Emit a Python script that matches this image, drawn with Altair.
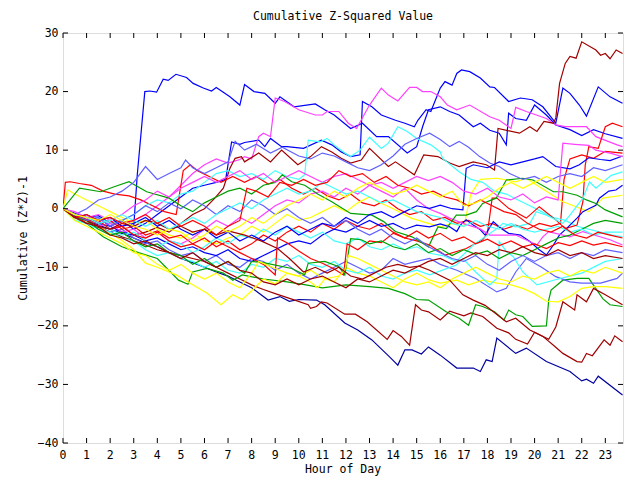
import altair as alt
import pandas as pd

FONT = "DejaVu Sans Mono"
R, DR, G, B, DB, LB, M, C, Y = ("#ff0000", "#a00000", "#00a000", "#0000ff", "#0000a0",
                                "#6060ff", "#ff40ff", "#40ffff", "#ffff00")

s01 = [(0,0),(0.5,-0.8),(1,-1.5),(1.5,-1.2),(2,-2.5),(2.5,-2),(3,-3),(3.15,5.8),(3.47,20),(3.68,20.1),(3.97,19.9),(4.25,22.1),(4.46,21.9),(4.79,22.95),(5.24,22.4),(5.52,21.4),(5.95,20.6),(6.3,20.1),(6.5,20.7),(7.08,19.1),(7.5,17.7),(7.7,21.2),(8.1,20),(8.56,19.7),(9.0,18),(9.2,19.1),(9.8,17.4),(10.7,17.9),(11.1,16.9),(11.5,16),(12.2,13.7),(12.7,14.6),(13.3,12.3),(13.8,12.3),(14.6,9.5),(15,10.6),(15.25,14),(15.5,16.9),(16,17.4),(16.4,16.6),(16.8,16),(17.4,14),(17.7,14.6),(18.1,13.4),(18.5,12.9),(18.8,10.9),(18.9,16.3),(19.2,15.4),(19.65,15.1),(20,17.7),(20.5,16),(20.9,14.3),(21.5,13.5),(22,12.5),(22.5,13.5),(23,12.8),(23.73,12)]
s02 = [(0,0),(0.5,-1),(1,-2),(1.5,-1.5),(2,-3),(2.5,-2),(3,-3.5),(3.5,-2.5),(4,-1),(4.5,0.5),(5,2),(5.5,3.5),(6,4),(6.5,4.5),(6.9,5),(7.15,11.4),(7.5,11),(7.7,11.3),(8.3,11.7),(8.56,10.6),(8.8,12),(9.27,10.6),(9.5,10.6),(10.2,10.3),(10.96,11.7),(11.4,10.9),(11.8,9.7),(12.2,8.9),(12.6,9.2),(12.7,18.3),(13.1,17.4),(13.5,16),(14.1,15.1),(14.5,14.6),(14.9,14),(15.05,15.1),(15.4,16.9),(15.6,16.6),(16,20.6),(16.2,21.7),(16.5,21.1),(16.7,23.1),(16.9,23.7),(17.25,23.4),(17.7,22.3),(18.1,20.8),(18.3,20.7),(18.9,18.3),(19.4,18.9),(19.9,18.6),(20.35,17.4),(20.9,14.6),(21.2,20.6),(21.5,19.7),(21.9,17.7),(22.2,15.8),(22.7,20.8),(23.2,19.1),(23.73,18)]
s03 = [(0,0),(0.5,-1),(1,-1.5),(1.5,-2.5),(2,-2),(2.5,-3),(3,-2),(3.5,-1),(4,0.5),(4.5,2),(5,4),(5.5,6),(6,7.5),(6.5,8.5),(7,7.8),(7.5,8.4),(7.7,8.9),(8.0,8.5),(8.3,12.3),(8.5,12.9),(8.8,12.3),(9.0,18.9),(9.4,18.3),(10,16.9),(10.7,16),(11,16),(11.2,16.6),(11.7,16.6),(12.1,14.6),(12.45,13.7),(13,17.7),(13.5,20.6),(13.8,19.4),(14.2,18.4),(14.7,20.7),(15,20.7),(15.25,20),(15.6,20),(16,19.1),(16.3,17.7),(16.7,16.9),(17.25,17.7),(18.1,15.7),(18.5,15.1),(19,13.7),(19.2,17.3),(19.65,16.6),(20.5,15.4),(20.9,14.3),(21.3,14),(22.2,14),(22.6,12.3),(23.5,10.9),(23.73,10.6)]
s04 = [(0,0),(0.5,-1.5),(1,-2),(1.5,-3),(2,-3.5),(2.5,-3),(3,-4.5),(3.5,-4),(4,-3.2),(4.5,-4),(5,-2.5),(5.5,-1),(6,0),(6.44,1.8),(6.8,3.5),(7.08,6.9),(7.3,8.6),(7.57,8.9),(7.7,8),(8.3,9.5),(8.8,8),(9.27,10),(9.96,7.5),(10.5,8.9),(10.96,10.6),(11.4,9.7),(11.8,8.6),(12.2,7.8),(12.65,8.3),(13,10.3),(13.8,7.2),(14.1,8),(14.9,5.8),(15.3,9.2),(15.9,8.9),(16.4,7.8),(16.8,7.2),(17.4,8),(17.95,7.5),(18.3,6.6),(18.45,13.7),(19.36,12.9),(19.8,14),(20.1,13.2),(20.4,14.9),(20.8,14.6),(20.9,15.5),(21.06,21.4),(21.3,24.8),(21.5,26),(21.76,25.7),(22,28.5),(22.6,27.1),(22.8,26.2),(23,26.5),(23.2,25.6),(23.46,27.1),(23.73,26.5)]
s05 = [(0,0),(0.5,-1.2),(1,-2),(1.5,-2.8),(2,-3.5),(2.5,-4.2),(3,-5),(3.5,-5.8),(4,-6.5),(4.5,-7.5),(5,-8.5),(5.5,-9.2),(6,-10),(6.5,-10.8),(7,-11.5),(7.5,-12.5),(8,-13.5),(8.7,-15.6),(9.2,-15),(9.6,-15.8),(10,-15.5),(10.75,-15.6),(11.1,-16.4),(11.95,-19.5),(12.5,-20.7),(13.1,-22.4),(13.85,-25.3),(14.2,-26.7),(14.5,-24.1),(14.8,-24.1),(15.2,-24.8),(15.5,-23.6),(16,-25),(16.7,-27.2),(17.4,-27.2),(17.7,-27.8),(17.95,-25.8),(18.2,-26.1),(18.4,-22.1),(19.2,-24.7),(19.65,-23.8),(20.5,-26.1),(21.5,-27.8),(22,-29.4),(22.2,-29.1),(22.5,-29.8),(22.7,-28.6),(23.73,-31.8)]
s06 = [(0,0),(0.5,-1.3),(1,-2.5),(1.5,-3.2),(2,-4),(2.5,-4.8),(3,-5.5),(3.5,-6.2),(4,-7),(4.5,-7.5),(5,-8),(5.5,-8.5),(6,-9),(6.5,-10),(7,-11),(7.5,-12),(8,-13),(8.5,-13.8),(9,-14.5),(9.83,-15.6),(10.4,-16.4),(10.5,-17),(10.75,-16.7),(10.96,-15.9),(11.2,-16.1),(11.95,-18),(12.4,-18),(12.9,-19.3),(13.75,-22.3),(14,-20.8),(14.35,-21.8),(14.7,-23.3),(14.95,-16.4),(15.2,-17.3),(15.5,-17.6),(16,-19),(16.4,-17.5),(17,-18.3),(17.3,-17.8),(17.8,-18.4),(18.4,-20.4),(18.9,-21.2),(19.2,-22.3),(19.7,-23.1),(20,-21.1),(20.35,-21.8),(20.8,-23.3),(21.2,-24.7),(21.8,-26.1),(22,-26.2),(22.2,-24.7),(22.45,-25.1),(22.95,-22.4),(23.2,-23.3),(23.4,-21.7),(23.73,-22.7)]
s07 = [(0,0),(0.5,-1.5),(1,-2.5),(1.7,-4.8),(2.5,-6.5),(3.2,-7.5),(4,-8.5),(4.9,-12.2),(5.3,-12.9),(5.5,-10.8),(6.1,-10.2),(6.8,-11),(7.2,-12.2),(7.6,-11.3),(8.5,-12),(9.5,-12.5),(10.3,-13),(11,-13.5),(12,-13),(13,-13.3),(13.8,-13.6),(14.5,-14.5),(15,-15.5),(15.5,-15.6),(16.25,-17.6),(16.8,-18.7),(17.2,-19.9),(17.5,-16.4),(17.8,-16.7),(18.3,-17.6),(18.7,-19),(18.9,-17.3),(19.2,-18.1),(19.5,-18.4),(19.9,-20.1),(20.5,-20),(20.6,-15.6),(20.7,-13.9),(21.2,-12.2),(21.8,-11.9),(22.3,-11.9),(22.9,-15.4),(23.2,-16.4),(23.73,-16.7)]
s08 = [(0,0),(0.5,-1.5),(1,-2.5),(1.5,-3),(2,-4),(2.5,-3.5),(3,-5),(3.5,-6),(4,-5.5),(4.5,-7),(5,-8),(5.5,-7.5),(6,-9),(6.5,-8),(7,-9.5),(7.5,-10),(8,-8.5),(8.5,-9),(9,-10.5),(9.5,-9.5),(10,-11),(10.5,-12),(11,-11),(11.5,-10),(12,-9),(12.5,-10),(13,-11),(13.5,-10.5),(14,-8.5),(14.5,-9.5),(15,-9),(15.55,-8.5),(16,-9.5),(16.7,-10.5),(17.5,-11.9),(18.4,-14.2),(18.8,-13.6),(19.2,-10.8),(19.65,-8.5),(20.3,-10),(20.9,-11.6),(21.5,-12.5),(22,-12.7),(22.8,-12.7),(23.5,-11.9),(23.73,-11)]
s09 = [(0,0),(0.1,4.5),(0.3,4.6),(0.7,4.3),(1.2,4),(1.7,3),(2.2,2.5),(2.8,2.2),(3.3,1.5),(3.8,0.5),(4.3,-0.5),(4.8,-1),(5.1,6.5),(5.4,7.5),(5.7,6.5),(6.2,5.5),(6.7,4.5),(7.2,5.5),(7.7,4.5),(8.2,5.5),(8.7,4.2),(9.2,5),(9.7,3.5),(10.2,2.5),(10.7,3.5),(11.2,2.2),(11.7,1.5),(12.2,2.5),(12.7,1),(13.2,0.5),(13.7,1.5),(14.2,0),(14.7,-1),(15.2,-0.5),(15.7,-2),(16.2,-1.5),(16.7,-2.5),(17.2,-2),(17.7,-3),(18.2,-2.5),(18.7,-3.5),(19.2,-2.8),(19.7,-3.5),(20.2,-2.5),(20.7,-3),(21.1,-2.5),(21.25,5),(21.5,8.5),(22,9.2),(22.5,8.6),(23,9.8),(23.73,9.5)]
s10 = [(0,0),(0.5,-1),(1,-2.2),(1.5,-3),(2,-4.2),(2.56,-5.6),(3,-7),(3.5,-9.3),(4,-10),(4.8,-11.3),(5.5,-13),(6.1,-14.4),(6.7,-16.4),(7.2,-14.7),(7.6,-15.5),(8,-14),(8.5,-12),(9,-12.8),(9.5,-11),(10,-11.5),(10.5,-10.5),(11,-11.8),(11.5,-12.5),(12,-10),(12.5,-11),(13,-11.5),(13.5,-12.5),(14,-13.5),(14.5,-12),(15,-11),(15.55,-12.2),(16,-12.7),(16.7,-12.2),(17.2,-13),(17.8,-12.2),(18.4,-12.7),(19,-13),(19.5,-13.6),(20,-14.5),(20.5,-15.8),(21,-15.9),(21.5,-15),(22,-13.6),(22.5,-13.3),(23,-13.3),(23.73,-13.6)]
s11 = [(0,0),(0.2,3.2),(0.5,2.5),(1,1.5),(1.5,0.5),(2,-0.5),(2.5,-1.5),(3,-2.5),(3.5,-2),(4,-3.5),(4.5,-4.5),(5,-5),(5.5,-4),(6,-5.5),(6.5,-6),(7,-5),(7.5,-4.5),(8,-3),(8.5,-4),(9,-2.5),(9.5,-1),(10,-2),(10.5,-1.5),(11,-0.5),(11.5,0.5),(12,-0.5),(12.5,1),(13,2),(13.36,1.2),(14,0),(14.77,-1.6),(15.5,-2.5),(16,-3.1),(16.5,-2.5),(17,-3),(17.3,2.5),(17.7,5),(18.4,5.2),(19.2,4.6),(19.65,5.2),(20.1,4),(21.2,1.2),(22.3,-0.5),(22.9,1.8),(23.73,2.3)]
s12 = [(0,0),(0.5,-1),(1,-2),(1.5,-1.5),(2,-2.5),(2.5,-2),(3,-1),(3.5,0.5),(4,1.5),(4.5,1),(5,2.5),(5.5,3),(6,4.5),(6.5,6),(7,6.5),(7.5,5.5),(8,6),(8.5,5),(9,6.5),(9.5,5.5),(10,5),(10.25,5.8),(10.4,11.7),(10.9,11.4),(11.2,12),(11.5,10.9),(11.95,9.5),(12.2,8.9),(12.6,10),(13.0,12.2),(13.5,10.3),(13.8,11.2),(14.2,14),(14.6,13.2),(15,12),(15.6,10.9),(16,9.7),(16.1,8.6),(16.8,6.3),(17.3,5),(17.8,4.5),(18.3,3),(18.8,2.5),(19.3,1.5),(19.8,0.5),(20.3,-0.5),(20.8,-1.5),(21.3,-2),(21.8,-3),(22.3,-3.5),(22.8,-4),(23.3,-4.5),(23.73,-4.8)]
s13 = [(0,0),(0.5,-1),(1,-1.8),(1.5,-2.5),(2,-2),(2.5,-3.5),(3,-3),(3.5,-4.5),(4,-3.8),(4.5,-5),(5,-4.5),(5.5,-6),(6,-5),(6.5,-6.5),(7,-5.5),(7.5,-7),(8,-6),(8.5,-4.5),(9,-5.5),(9.5,-4),(10,-3),(10.5,-4),(11,-2.5),(11.5,-3.5),(12,-2),(12.5,-3),(13,-3.5),(13.5,-2.5),(14,-4),(14.5,-5),(15,-5.5),(15.55,-6.2),(16.2,-7.9),(17.1,-6.8),(17.8,-5.3),(18.0,-4.2),(18.2,1.8),(18.4,1.8),(18.9,0.06),(19.65,-1.6),(20.2,0.35),(20.9,-1.9),(21.3,-3.4),(21.8,-2.8),(22.05,1.2),(22.15,7.5),(22.3,10.6),(22.7,10.3),(23,14),(23.3,14.6),(23.73,14)]
s14 = [(0,0),(0.5,-1),(1,-1.5),(1.5,-2.5),(2,-3),(2.5,-4),(3,-4.5),(3.5,-5.5),(4,-5),(4.5,-6),(5,-7),(5.5,-6.5),(6,-7.5),(6.5,-8),(7,-7),(7.5,-8.5),(8,-9),(8.5,-8),(9,-7),(9.5,-6),(10,-5.5),(10.5,-6),(11,-4.5),(11.5,-3.5),(12,-4),(12.5,-3),(13,-2),(13.5,-3),(14,-2.5),(14.5,-3.5),(15,-2.8),(15.55,-3.1),(16,-2.6),(16.4,-3.1),(16.7,-3.9),(16.85,-2.8),(17.1,-1.9),(17.4,-2.8),(17.7,-3.6),(17.9,-4.5),(18.25,-2.2),(18.55,-3.3),(18.9,-4.2),(19.4,-4.5),(19.8,-5.6),(20.2,-7),(20.5,-7.9),(20.8,-6.2),(21.05,-4.5),(21.35,-3.4),(21.5,-2.8),(21.8,-1.6),(22.05,-0.5),(22.3,0),(22.6,0.6),(22.75,1.8),(23.15,3),(23.45,3.2),(23.73,4)]
s15 = [(0,0),(0.5,-1.5),(1,-2),(1.5,-3),(2,-2.5),(2.5,-4),(3,-3.5),(3.5,-5),(4,-4),(4.5,-5.5),(5,-6),(5.5,-5),(6,-3.5),(6.5,-2),(7,-3),(7.5,-1.5),(8,-2.5),(8.5,-1),(9,0.5),(9.5,1.5),(10,1),(10.5,2.5),(11,3),(11.5,2),(12,3.5),(12.5,2.5),(13,4),(13.5,3),(14,2),(14.5,3.5),(15,1.5),(15.5,0),(16,-0.8),(16.4,-1.6),(16.96,-2.5),(17.67,-3.4),(18.1,-4.5),(19.2,-4.5),(20.1,-6.2),(20.35,-4.8),(20.6,-3.9),(21.5,-4.8),(22.05,-3.9),(23.2,-5.3),(23.73,-6.2)]
s16 = [(0,0),(0.7,3.5),(1.6,2.9),(2.2,3.8),(2.8,4.6),(3.55,2.9),(4.5,1.8),(5,0.5),(5.5,-0.5),(6,1),(6.5,2),(7,3),(7.5,3.5),(8,2.5),(8.5,4),(9,4.5),(9.3,5.8),(9.7,4.6),(10.25,4.0),(10.8,2.5),(11.4,1.2),(12.2,-0.8),(13.1,-1.1),(13.6,-2.2),(14.1,-3.9),(14.8,-4.8),(15.5,-6.5),(15.9,-3.1),(16.26,-3.4),(16.68,-1.1),(17.1,-1.1),(17.53,-0.5),(17.8,0.9),(18.37,1.8),(18.8,4.9),(19.5,5.2),(19.93,4.9),(20.8,2.9),(21.2,2.9),(21.8,2.3),(22.2,1.5),(22.6,0.9),(23.0,-0.2),(23.73,-1.4)]
s17 = [(0,0),(0.5,-1.5),(1,-2.5),(1.5,-2),(2,-3.5),(2.5,-4.5),(3,-4),(3.5,-5.5),(4,-6.5),(4.5,-5.5),(5,-6),(5.5,-7.5),(6,-6.5),(6.5,-5),(7,-6),(7.5,-4.5),(8,-5),(8.5,-3.5),(9,-4.5),(9.5,-3),(10,-4),(10.5,-5),(11,-4),(11.5,-5.5),(12,-6),(12.5,-5),(13,-6.5),(13.5,-7),(14,-6),(14.5,-7),(15,-6.5),(15.55,-7.6),(16.1,-8),(16.68,-9.0),(17.4,-6.2),(18.4,-3.4),(18.66,-2.5),(19.2,-3.1),(19.8,-2.5),(20.07,-0.5),(20.5,-1.1),(21.2,-2.5),(21.5,-1.1),(22.05,1.8),(22.33,4.6),(22.6,3.5),(23.25,5.7),(23.73,6.3)]
s18 = [(0,0),(0.5,-2),(1,-2.5),(1.5,-3.5),(2,-4),(2.5,-5),(3,-5.5),(3.5,-7),(4,-8),(4.5,-7.5),(5,-8.5),(5.5,-9),(6,-10),(6.5,-9),(7,-10.5),(7.5,-11),(8,-9.5),(8.5,-10),(9,-8.5),(9.5,-9),(10,-8),(10.5,-9.5),(11,-10),(11.5,-9),(12,-10.5),(12.5,-11),(13,-10),(13.5,-11.5),(14,-12),(14.5,-11),(15,-10.5),(15.55,-11.3),(16.68,-9.6),(16.96,-8.5),(17.5,-10.8),(18.1,-13),(18.4,-11.9),(18.5,-5.6),(18.8,-7.3),(19.1,-8.2),(19.5,-10.8),(20.1,-13),(21,-12),(22,-11),(23,-9),(23.73,-8.5)]
s19 = [(0,0),(0.5,-1),(1,0),(1.5,1.5),(2,2),(2.5,3),(3,4.5),(3.5,7.2),(4,5),(4.5,6),(5,7),(5.2,8.3),(5.5,7),(6,6),(6.5,7),(7,8),(7.3,11.5),(7.7,10),(8.2,11),(8.8,9.5),(9.3,10.5),(10,9),(10.5,8.5),(11,9.5),(11.5,9),(12,8),(12.5,7),(13,6.5),(13.5,7.5),(14,9),(14.5,11),(15,12),(15.55,12.9),(16,11.8),(16.4,10.6),(16.8,11.5),(17.2,10.5),(17.67,8.9),(18.1,7.8),(18.5,7.2),(18.94,6),(19.5,5),(20,5.5),(20.5,4.5),(21,5.5),(21.5,6),(22,5.5),(22.5,7),(23,6.5),(23.73,7.5)]
s20 = [(0,0),(0.5,-1.5),(1,-1),(1.5,-2),(2,-1.5),(2.5,-3),(3,-2.5),(3.5,-1.5),(4,-3),(4.5,-2),(5,-3.5),(5.5,-4.5),(6,-3.5),(6.5,-5),(7,-4),(7.5,-5.5),(8,-4.5),(8.5,-5.5),(9,-4),(9.5,-3),(10,-4.5),(10.5,-3.5),(11,-2.5),(11.5,-3),(12,-1.5),(12.5,-2.5),(13,-1),(13.5,-0.5),(14,-1.5),(14.5,-0.5),(15,0.5),(15.55,0.06),(16,0.6),(16.5,0),(16.96,-0.2),(17.1,6.9),(17.4,7.5),(18,7),(18.5,8),(19,7.5),(19.5,8),(20,8.5),(20.35,8.9),(20.9,7.2),(21.5,6.8),(21.9,7.5),(22.3,8.7),(22.8,8.4),(23.2,8.2),(23.73,9)]
s21 = [(0,0),(0.5,-1),(1,-2.5),(1.5,-2),(2,-3.5),(2.5,-3),(3,-4.5),(3.5,-5),(4,-4),(4.5,-5.5),(5,-6.5),(5.5,-6),(6,-7),(6.5,-5.5),(7,-6.5),(7.5,-7.5),(8,-8.5),(8.5,-9.5),(9.0,-11.3),(9.1,-5),(9.5,-5.8),(10,-7.2),(10.5,-8.5),(11,-9.3),(11.5,-10.3),(11.9,-11.3),(12.05,-6),(12.5,-7),(13,-5.5),(13.5,-5.8),(14,-4.2),(14.5,-5),(15,-3.8),(15.5,-5),(16,-4.2),(16.5,-5.5),(17,-4.8),(17.5,-6),(18,-5.2),(18.5,-6.3),(19,-5.5),(19.5,-6.5),(20,-6),(20.5,-6.8),(21,-5.8),(21.5,-6.3),(22,-5.5),(22.5,-6.2),(23,-5.8),(23.73,-6.5)]
s22 = [(0,0),(0.5,-1.5),(1,-2),(1.5,-3.5),(2,-4.5),(2.5,-4),(3,-5.5),(3.5,-6.5),(4,-6),(4.5,-7.5),(5,-8),(5.5,-9.5),(6,-8.5),(6.5,-10),(7,-9),(7.5,-10.5),(7.7,-11),(8,-9),(8.6,-9.3),(9.7,-10.2),(10.25,-11.3),(10.4,-9.3),(11.1,-9),(11.7,-9.9),(11.95,-11.3),(12.2,-5.1),(12.65,-5.3),(13,-6),(13.5,-5.5),(14,-6.5),(14.5,-7),(15,-6),(15.5,-7.5),(16,-6.8),(16.5,-8),(17,-7),(17.5,-7.8),(18,-7.2),(18.5,-8.5),(19,-7.5),(19.5,-8),(20,-7),(20.5,-6),(21,-5),(21.5,-4.5),(22,-3.5),(22.5,-2.5),(23,-2),(23.73,-2.5)]
s23 = [(0,0),(0.5,-2),(1,-3),(1.5,-4),(2,-5),(2.5,-6),(3,-7.5),(3.5,-8),(4,-9.5),(4.5,-10.5),(5,-9.5),(5.5,-11),(6,-12),(6.5,-11),(7,-12.5),(7.5,-13.5),(8,-11),(8.3,-9),(8.6,-9.5),(9,-10.2),(9.5,-11),(10,-11.5),(10.5,-12.5),(10.8,-13.5),(11.1,-12),(11.7,-11.5),(11.95,-10.5),(12.1,-8),(12.5,-8.5),(13,-9.5),(13.5,-10.5),(14,-11.5),(14.5,-12.5),(15,-13),(15.5,-12.5),(16,-13.5),(16.5,-12),(17,-11),(17.5,-10),(18,-11),(18.5,-12),(19,-12.5),(19.5,-11.5),(20,-12),(20.5,-11),(21,-10.5),(21.5,-11.5),(22,-10.5),(22.5,-11),(23,-10),(23.73,-11)]
s24 = [(0,0),(0.5,-1),(1,-2),(1.5,-3),(2,-3.5),(2.5,-2.5),(3,-3),(3.5,-2),(4,-2.5),(4.5,-3.5),(5,-3),(5.5,-4),(6,-3.5),(6.5,-4.5),(7,-3.8),(7.71,-4.5),(8.4,-5.5),(9.1,-6.8),(9.6,-8.5),(10.2,-10.8),(10.7,-10),(11.2,-11),(11.7,-10),(12.2,-11.5),(12.7,-12),(13.2,-11),(13.7,-10),(14.2,-9.5),(14.7,-10),(15.1,-9.8),(15.55,-10.5),(16.4,-12.2),(16.96,-14.7),(17.4,-15.6),(17.9,-16.5),(18.8,-19.3),(19.2,-18.7),(19.8,-20.7),(20.6,-22.3),(20.9,-20.2),(21.2,-15.9),(21.7,-17.3),(21.8,-14.7),(22.2,-15.9),(22.5,-13.6),(23.0,-14.7),(23.73,-16.4)]
s25 = [(0,0),(0.5,-0.5),(1,-1.5),(1.5,-1),(2,-2),(2.5,-1),(3,0.5),(3.5,1.5),(4,3),(4.5,2),(5,3.5),(5.5,4.5),(6,5.5),(6.5,4.5),(7,5.5),(7.5,6.5),(8,5),(8.5,6),(9,4.5),(9.5,5.5),(10,6.5),(10.5,5.5),(11,4.5),(11.5,5.5),(12,6),(12.5,5),(13,4),(13.5,4.5),(14,3.5),(14.5,4.5),(15,5.5),(15.5,4.8),(16,5.5),(16.5,4.5),(17,3),(17.5,2.5),(18,3.5),(18.5,2),(19,1.5),(19.5,2.5),(20,1),(20.5,2),(21,1.5),(21.1,6.5),(21.2,11.2),(21.7,11),(22.3,10.8),(22.6,10),(23.2,9.5),(23.73,8.9)]
s26 = [(0,0),(0.5,-1),(1,-2),(1.5,-1.5),(2,-3),(2.5,-2),(3,-1),(3.5,0.5),(4,-0.5),(4.5,1),(5,0),(5.5,1.5),(6,0.5),(6.5,-1),(7,0.5),(7.5,-0.5),(8,1.5),(8.5,0.5),(9,-1),(9.5,0),(10,-1.5),(10.5,-2.5),(11,-1.5),(11.5,-3),(12,-2),(12.5,-3.5),(13,-4.5),(13.5,-3.5),(14,-5),(14.5,-6),(15,-5),(15.5,-6.5),(16,-7.5),(16.5,-8.5),(17,-9),(17.5,-8),(18,-9.5),(18.5,-10.5),(19,-9),(19.5,-8),(20,-9),(20.5,-8),(21,-7.5),(21.5,-8.5),(22,-7.5),(22.5,-8),(23,-7),(23.73,-7.5)]
s27 = [(0,0),(0.5,-1),(1,-1.5),(1.5,-2.5),(2,-2),(2.5,-1),(3,-2),(3.5,-3),(4,-2),(4.5,-3.5),(5,-2.5),(5.5,-1.5),(6,-2.5),(6.5,-1),(7,0),(7.5,1),(8,0),(8.5,1.5),(9,2.5),(9.5,3.5),(10,2.5),(10.5,3),(11,4.5),(11.5,3.5),(12,2.5),(12.5,3),(13,2),(13.5,1),(14,1.5),(14.5,0.5),(15,-0.5),(15.5,-1),(16,-1.5),(16.5,-2.5),(17,-3),(17.5,-2),(18,-3),(18.5,-3.5),(19,-2.5),(19.5,-3.5),(20,-4),(20.5,-3.5),(21,-3),(21.5,-4),(22,-3.5),(22.5,-4.5),(23,-4),(23.73,-4)]
s28 = [(0,0),(0.5,-1.5),(1,-1),(1.5,-2),(2,-1.5),(2.5,-2.5),(3,-2),(3.5,-1),(4,-2.5),(4.5,-1.5),(5,-3),(5.5,-2),(6,-3),(6.5,-4.5),(7,-3),(7.5,-2),(7.8,3.5),(8.2,3),(8.7,2),(9.2,4.5),(9.7,4),(10.2,5),(10.7,4),(11.2,4.5),(11.7,6.5),(12.2,5.5),(12.7,6),(13.2,4.5),(13.7,5.5),(14.2,4),(14.7,3.5),(15.2,2.5),(15.7,3),(16.2,2),(16.7,1.5),(17.2,0.5),(17.7,1.5),(18.2,0.5),(18.7,-0.5),(19.2,-1),(19.7,-2.5),(20.2,-3.5),(20.7,-4),(21.2,-3),(21.7,-4.5),(22.2,-5),(22.7,-4),(23.2,-4.5),(23.73,-5)]
s29 = [(0,0),(0.5,-1.5),(1,-2.5),(1.5,-3),(2,-4.5),(2.5,-5),(3,-6),(3.5,-5.5),(4,-6.5),(4.5,-7.5),(5,-8.5),(5.5,-7.5),(6,-9),(6.5,-10),(7,-9),(7.5,-10.5),(8,-11),(8.5,-12.5),(9,-13),(9.5,-12),(10,-13),(10.5,-12),(11,-11.5),(11.5,-12.5),(12,-13.5),(12.5,-12),(13,-12.5),(13.5,-11.5),(14,-10.5),(14.5,-11),(15,-10),(15.5,-9),(16,-8.5),(16.5,-9.5),(17,-8.5),(17.5,-7.5),(18,-8),(18.5,-7),(19,-7.5),(19.5,-6.5),(20,-7.5),(20.5,-8),(21,-7),(21.5,-8),(22,-7.5),(22.5,-8.5),(23,-8),(23.73,-8.5)]
s30 = [(0,0),(0.5,-1),(1,-1.5),(1.5,-2),(2,-1),(2.5,-2),(3,-3),(3.5,-3.5),(4,-4.5),(4.5,-3.5),(5,-4),(5.5,-5.5),(6,-4.5),(6.5,-3),(7,-4),(7.5,-3),(8,-1.5),(8.5,-2.5),(9,-1),(9.5,0.5),(10,1.5),(10.5,2.5),(11,1.5),(11.5,3),(12,2),(12.5,3.5),(13,4.5),(13.5,3.5),(14,2.5),(14.5,3),(15,4),(15.5,3),(16,2),(16.5,3),(16.8,1.5),(17,0.5),(17.5,1),(18,2),(18.5,3.5),(19,4.5),(19.5,3.5),(20,4.5),(20.5,5.5),(21,4.5),(21.5,3.5),(22,4.5),(22.5,5.5),(23,4.5),(23.73,5)]

series = [
    ("s01", B, s01), ("s02", B, s02), ("s03", M, s03), ("s04", DR, s04), ("s05", DB, s05),
    ("s06", DR, s06), ("s07", G, s07), ("s08", LB, s08), ("s09", R, s09), ("s10", Y, s10),
    ("s11", Y, s11), ("s12", C, s12), ("s13", R, s13), ("s14", B, s14), ("s15", M, s15),
    ("s16", G, s16), ("s17", C, s17), ("s18", C, s18), ("s19", LB, s19), ("s20", B, s20),
    ("s21", R, s21), ("s22", G, s22), ("s23", Y, s23), ("s24", DR, s24), ("s25", M, s25),
    ("s26", LB, s26), ("s27", C, s27), ("s28", R, s28), ("s29", DR, s29), ("s30", Y, s30),
]

hours = list(range(24))
hour_labels = [str(h) for h in hours]
yticks = list(range(-40, 31, 10))
XMAX = 23.75

rows = []
for name, col, pts in series:
    for i, (h, v) in enumerate(pts):
        rows.append({"s": name, "h": h, "v": v, "o": i})
df = pd.DataFrame(rows)
names = [s[0] for s in series]
colors = [s[1] for s in series]

xs = alt.Scale(domain=[0, XMAX], nice=False, zero=False)
ys = alt.Scale(domain=[-40, 30], nice=False, zero=False)

yaxis = alt.Axis(values=yticks, ticks=False, tickSize=0, domain=False, grid=False,
                 labelFont=FONT, labelFontSize=11.5, labelColor="black", labelPadding=5,
                 labelFlush=False, labelOverlap=False, title="Cumulative (Z*Z)-1",
                 titleFont=FONT, titleFontSize=11.5, titleFontWeight="normal",
                 titleColor="black", titlePadding=9)

lines = alt.Chart(df).mark_line(strokeWidth=1.2, clip=True).encode(
    x=alt.X("h:Q", scale=xs, axis=None),
    y=alt.Y("v:Q", scale=ys, axis=yaxis),
    color=alt.Color("s:N", scale=alt.Scale(domain=names, range=colors), legend=None),
    order="o:Q",
)

tx = pd.DataFrame({"h": hours, "lab": hour_labels})
ty = pd.DataFrame({"v": yticks})
tick_len_y = 5 / (410 / 70)
tick_len_x = 5 / (560 / XMAX)

xlabels = alt.Chart(tx).mark_text(font=FONT, fontSize=11.5, color="black",
                                  baseline="middle", align="center").encode(
    x=alt.X("h:Q", scale=xs), y=alt.value(423), text="lab:N")
xtitle = alt.Chart(tx.head(1)).mark_text(font=FONT, fontSize=11.5, color="black",
                                         baseline="middle", align="center").encode(
    x=alt.value(280), y=alt.value(437), text=alt.value("Hour of Day"))

bot = alt.Chart(tx).mark_rule(color="black", strokeWidth=1).encode(
    x="h:Q", y=alt.datum(-40), y2=alt.datum(-40 + tick_len_y))
top = alt.Chart(tx).mark_rule(color="black", strokeWidth=1).encode(
    x="h:Q", y=alt.datum(30), y2=alt.datum(30 - tick_len_y))
left = alt.Chart(ty).mark_rule(color="black", strokeWidth=1).encode(
    y="v:Q", x=alt.datum(0), x2=alt.datum(tick_len_x))
right = alt.Chart(ty).mark_rule(color="black", strokeWidth=1).encode(
    y="v:Q", x=alt.datum(XMAX), x2=alt.datum(XMAX - tick_len_x))

chart = alt.layer(lines, bot, top, left, right, xlabels, xtitle).properties(
    width=560, height=410,
    padding={"left": 63, "top": 33, "right": 17, "bottom": 37},
    autosize=alt.AutoSizeParams(type="none"),
    title=alt.TitleParams("Cumulative Z-Squared Value", font=FONT, fontSize=11.5,
                          fontWeight="normal", color="black", offset=5, anchor="middle"),
).configure_view(stroke="black", strokeWidth=1).configure(background="white")

chart.save("out.html", embed_options={"renderer": "svg", "actions": False})
